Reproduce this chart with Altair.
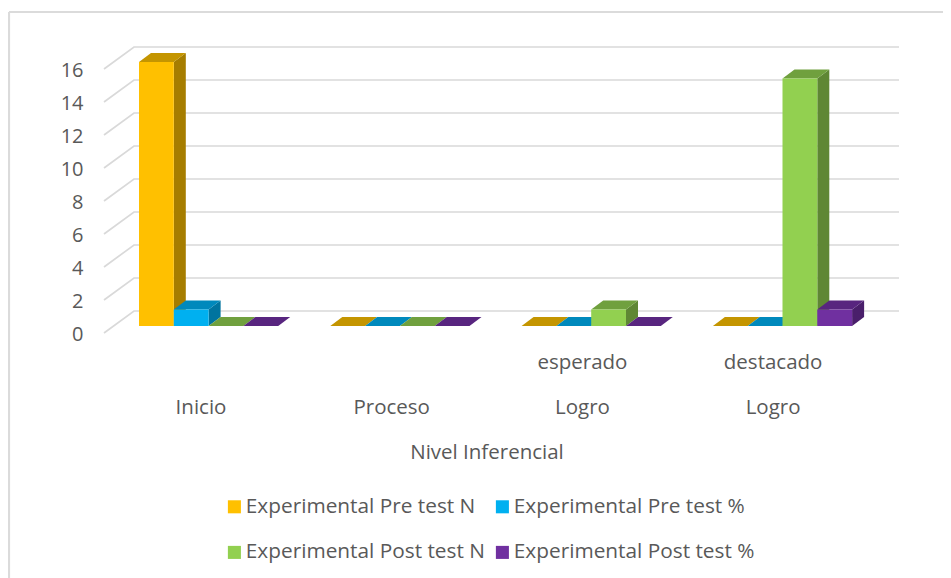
import altair as alt
import pandas as pd

categories = ["Inicio", "Proceso", "Logro", "Logro"]
sublabels = ["", "", "esperado", "destacado"]
axis_title = "Nivel Inferencial"
series = ["Experimental Pre test N", "Experimental Pre test %",
          "Experimental Post test N", "Experimental Post test %"]
pre_n = [16, 0, 0, 0]
pre_pct = [1, 0, 0, 0]
post_n = [0, 0, 1, 15]
post_pct = [0, 0, 0, 1]
y_ticks = [0, 2, 4, 6, 8, 10, 12, 14, 16]

front_colors = ["#FFC000", "#00B0F0", "#92D050", "#7030A0"]
top_colors = ["#C49500", "#0089BC", "#70A03E", "#58257F"]
side_colors = ["#A67D00", "#00749F", "#5F8734", "#4A1F6B"]
GRID = "#D9D9D9"
TEXT = "#595959"
FONT = "Open Sans"

# page-pixel layout of the 3D projection
LEFT, TOP, W, H = 8, 8, 935, 570
X0, PITCH, BAR = 139.0, 191.3, 34.8
LABEL_X0, LABEL_PITCH = 201.0, 190.7
Y0, UNIT = 326.0, 16.5
DX, DY = 12.0, 9.0
ux = lambda px: (px - X0) / PITCH
uy = lambda px: (Y0 - px) / UNIT

xs = alt.Scale(domain=[ux(LEFT), ux(LEFT + W)], nice=False, zero=False)
ys = alt.Scale(domain=[uy(TOP + H), uy(TOP)], nice=False, zero=False)
bw, dx, dy = BAR / PITCH, DX / PITCH, DY / UNIT

bars, sides, tops = [], [], []
for si, (name, vals) in enumerate(zip(series, [pre_n, pre_pct, post_n, post_pct])):
    for g, v in enumerate(vals):
        a = g + si * bw
        b = a + bw
        bid = f"{si}-{g}"
        bars.append(dict(series=name, a=a, b=b, v=v, base=0))
        if v > 0:
            sides += [dict(id=bid, c=side_colors[si], x=b, y=0, y2=v),
                      dict(id=bid, c=side_colors[si], x=b + dx, y=dy, y2=v + dy)]
        tops += [dict(id=bid, c=top_colors[si], y=v, x=a, x2=b),
                 dict(id=bid, c=top_colors[si], y=v + dy, x=a + dx, x2=b + dx)]

grid = []
for t in y_ticks:
    grid += [dict(t=t, x=ux(104), y=t - 7 / UNIT),
             dict(t=t, x=ux(134), y=t + 15 / UNIT),
             dict(t=t, x=ux(899), y=t + 15 / UNIT)]

X = lambda f: alt.X(f, type="quantitative", scale=xs, axis=None)
YA = alt.Y("y", type="quantitative", scale=ys, axis=alt.Axis(
    values=y_ticks, domain=False, ticks=False, grid=False, title=None,
    labelFont=FONT, labelFontSize=20, labelColor=TEXT, labelPadding=0,
    offset=-75, labelOffset=8))

border = pd.DataFrame([dict(x=ux(9), x2=ux(9), y=uy(12), y2=uy(TOP + H)),
                       dict(x=ux(9), x2=ux(LEFT + W), y=uy(12), y2=uy(12))])
border_l = alt.Chart(border).mark_rule(color="#DBDBDB", strokeWidth=2.2).encode(
    x=X("x"), x2="x2", y=YA, y2="y2")

grid_l = alt.Chart(pd.DataFrame(grid)).mark_line(color=GRID, strokeWidth=1.7).encode(
    x=X("x"), y=YA, detail="t:N", order="x:Q")

side_l = alt.Chart(pd.DataFrame(sides)).mark_area(interpolate="linear").encode(
    x=X("x"), y=YA, y2="y2", detail="id:N", color=alt.Color("c:N", scale=None))
top_l = alt.Chart(pd.DataFrame(tops)).mark_area(orient="horizontal", interpolate="linear").encode(
    y=YA, x=X("x"), x2="x2", detail="id:N", color=alt.Color("c:N", scale=None))

legend_domain = [series[0], series[2], series[1], series[3]]
legend_range = [front_colors[0], front_colors[2], front_colors[1], front_colors[3]]
front_l = alt.Chart(pd.DataFrame(bars).rename(columns={"v": "y"})).mark_rect().encode(
    x=X("a"), x2="b", y=YA, y2="base",
    color=alt.Color("series:N", scale=alt.Scale(domain=legend_domain, range=legend_range),
                    legend=alt.Legend(orient="none", legendX=216, legendY=488, columns=2,
                                      title=None, symbolType="square", symbolSize=170,
                                      symbolStrokeWidth=0, labelFont=FONT, labelFontSize=20.8,
                                      labelColor=TEXT, rowPadding=24, columnPadding=7,
                                      labelOffset=1, labelLimit=320)))

label_rows = []
for g, (c, s) in enumerate(zip(categories, sublabels)):
    cx = ux(LABEL_X0 + g * LABEL_PITCH)
    label_rows.append(dict(x=cx, y=uy(408), t=c))
    if s:
        label_rows.append(dict(x=cx, y=uy(363), t=s))
label_rows.append(dict(x=ux(487), y=uy(453), t=axis_title))
text_l = alt.Chart(pd.DataFrame(label_rows)).mark_text(
    font=FONT, fontSize=20.5, color=TEXT, align="center", baseline="middle").encode(
    x=X("x"), y=YA, text="t:N")

chart = alt.layer(border_l, grid_l, side_l, top_l, front_l, text_l).resolve_scale(
    color="independent").properties(
    width=W, height=H, padding=0, autosize=alt.AutoSizeParams(type="none"),
    background="white").configure_view(stroke=None)

chart.save("out.html", embed_options={"renderer": "svg", "actions": False})
